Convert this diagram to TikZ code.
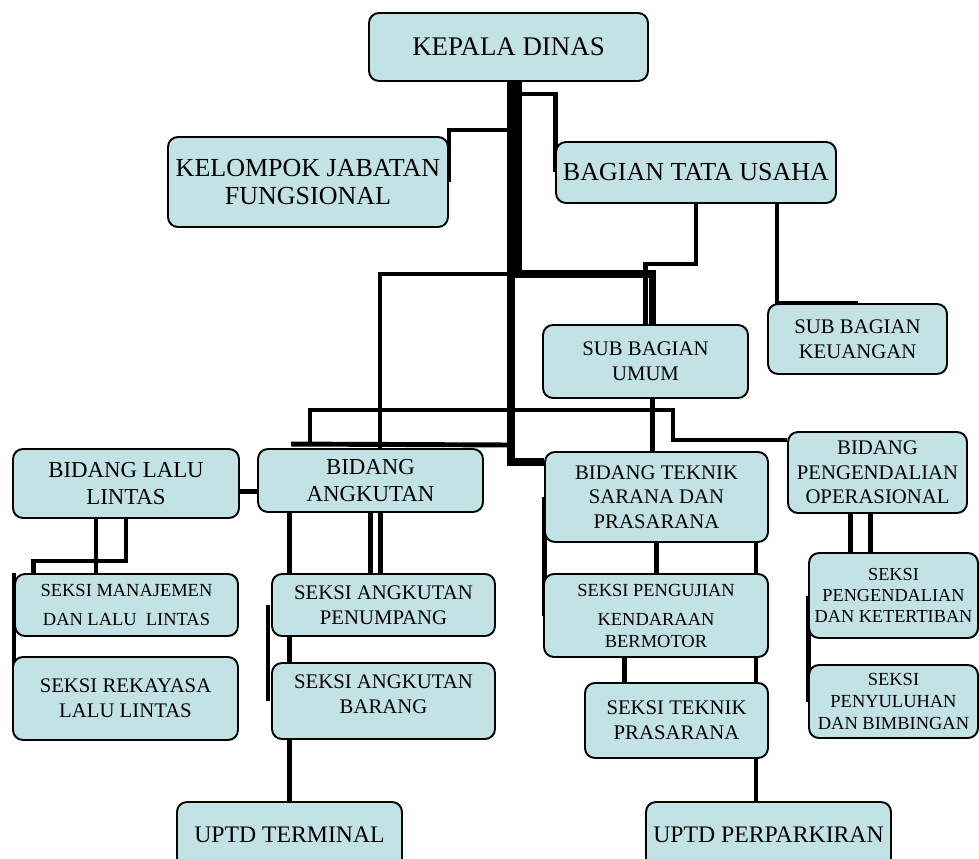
\documentclass[tikz,border=0pt]{standalone}
\usepackage{fontspec}
\setmainfont{Liberation Serif}
\usepackage{tikz}
\usetikzlibrary{backgrounds}
\definecolor{boxfill}{HTML}{C2E2E5}

\begin{document}
\begin{tikzpicture}[
  x=0.2mm, y=-0.2mm,
  box/.style={draw,line width=1.1pt,rounded corners=2mm,fill=boxfill,align=center,inner sep=0pt},
  fhead/.style={font=\fontsize{15.3}{17}\selectfont},
  fbig/.style={font=\fontsize{14.8}{16}\selectfont},
  fuptd/.style={font=\fontsize{13.5}{16}\selectfont},
  fbidang/.style={font=\fontsize{13}{15.4}\selectfont},
  fmid/.style={font=\fontsize{11.8}{14}\selectfont},
  fsmall/.style={font=\fontsize{10.5}{12.5}\selectfont},
  ftiny/.style={font=\fontsize{10.4}{11.7}\selectfont},
  conn/.style={line width=2.8pt},
  trunk/.style={line width=4.5pt}
]
\useasboundingbox (0,0) rectangle (979,859);

% pimpinan dan staf
\node[box,fhead,minimum width=55.8mm,minimum height=13.6mm] (kepala) at (508.5,47) {KEPALA DINAS};
\node[box,fbig,minimum width=56mm,minimum height=18mm] (kelompok) at (308,182) {KELOMPOK JABATAN\\FUNGSIONAL};
\node[box,fbig,minimum width=56mm,minimum height=12.2mm] (tatausaha) at (696,172.5) {BAGIAN TATA USAHA};
\node[box,fmid,minimum width=35.8mm,minimum height=14mm] (keuangan) at (857.5,339) {SUB BAGIAN\\KEUANGAN};
\node[box,fmid,minimum width=41mm,minimum height=14.6mm] (umum) at (645.5,361.5) {SUB BAGIAN\\UMUM};

% bidang
\node[box,fbidang,minimum width=45.2mm,minimum height=13.8mm] (lalin) at (126,483.5) {BIDANG LALU\\LINTAS};
\node[box,fbidang,minimum width=45mm,minimum height=12.6mm] (angkutan) at (370.5,480.5) {BIDANG\\ANGKUTAN};
\node[box,fmid,minimum width=44.6mm,minimum height=18mm] (teknik) at (656.5,497) {BIDANG TEKNIK\\SARANA DAN\\PRASARANA};
\node[box,fmid,minimum width=35.8mm,minimum height=16.2mm] (pengendalian) at (877.5,472.5) {BIDANG\\PENGENDALIAN\\OPERASIONAL};

% seksi
\node[box,fsmall,minimum width=44.6mm,minimum height=12.4mm] (manajemen) at (126.5,605) {SEKSI MANAJEMEN\\[4pt]DAN LALU\ \ LINTAS};
\node[box,fmid,minimum width=45mm,minimum height=16.6mm] (rekayasa) at (125.5,698.5) {SEKSI REKAYASA\\LALU LINTAS};
\node[box,fmid,minimum width=44.6mm,minimum height=12.4mm] (penumpang) at (383.5,605) {SEKSI ANGKUTAN\\PENUMPANG};
\node[box,fmid,minimum width=44.6mm,minimum height=15.2mm] (barang) at (383.5,701) {SEKSI ANGKUTAN\\BARANG\\[-6pt]};
\node[box,fsmall,minimum width=44.8mm,minimum height=16.6mm] (pengujian) at (656,615.5) {SEKSI PENGUJIAN\\[4pt]KENDARAAN\\BERMOTOR};
\node[box,fmid,minimum width=36.6mm,minimum height=15mm] (prasarana) at (676.5,720.5) {SEKSI TEKNIK\\PRASARANA};
\node[box,ftiny,minimum width=33.8mm,minimum height=17mm] (ketertiban) at (893.5,595.5) {SEKSI\\PENGENDALIAN\\DAN KETERTIBAN};
\node[box,fsmall,minimum width=33.8mm,minimum height=14.6mm] (penyuluhan) at (893.5,701.5) {SEKSI\\PENYULUHAN\\DAN BIMBINGAN};

% uptd
\node[box,fuptd,minimum width=45mm,minimum height=13.2mm] (terminal) at (289.5,835) {UPTD TERMINAL};
\node[box,fuptd,minimum width=49mm,minimum height=13.2mm] (perparkiran) at (768.5,835) {UPTD PERPARKIRAN};

\begin{scope}[on background layer]
\coordinate (tA) at (511,462);
\coordinate (tB) at (518.5,274);
\coordinate (kk) at (511,130);
\coordinate (kt) at (518.5,94);
\coordinate (ka) at (380,274);
\coordinate (kb) at (511,445);
\coordinate (kp) at (310,410);
\coordinate (kq) at (673,440);

% garis utama
\draw[trunk] (kepala.south -| tA) -- (tA) -- (tA -| teknik.west);
\draw[line width=4pt] (kepala.south -| tB) -- (tB) -| ([shift={(7,0)}]umum.north);
\draw[conn] (kk) -| (kelompok.east);
\draw[conn] (kt) -| (tatausaha.west);
\draw[conn] (tB) -- (ka) -- (ka |- angkutan.north);
\draw[conn] (kb) -- ([shift={(34,-4)}]angkutan.north west);
\draw[conn] (kp |- kb) -- (kp) -| (kq) -- (kq -| pengendalian.west);
\draw[conn] (tatausaha.south) -- ++(0,60) -| (umum.north);
\draw[conn] ([shift={(81,0)}]tatausaha.south) |- (keuangan.north);
\draw[conn] ([shift={(7,0)}]umum.south) -- ++(0,54);
\draw[conn] ([shift={(0,8)}]lalin.east) -- ([shift={(0,11)}]angkutan.west);

% lalu lintas
\draw[conn] ([shift={(-30,0)}]lalin.south) -- ++(0,56);
\draw[conn] (lalin.south) -- ++(0,42) -| ([shift={(-93,0)}]manajemen.north);
\draw[conn] (manajemen.north west) -- (manajemen.north west |- rekayasa.west);

% angkutan
\draw[conn] (terminal.north) -- (terminal.north |- angkutan.south);
\draw[conn] (angkutan.south) -- (angkutan.south |- penumpang.north);
\draw[conn] ([shift={(10,0)}]angkutan.south) -- ++(0,62);
\draw[conn] ([shift={(-3,0)}]penumpang.west) -- ++(0,96);

% teknik sarana dan prasarana
\draw[conn] (teknik.west) -- (teknik.west |- pengujian.west);
\draw[conn] (teknik.south) -- (teknik.south |- pengujian.north);
\draw[conn] ([shift={(-13,0)}]teknik.south east) -- ++(0,260);
\draw[conn] ([shift={(-52,0)}]prasarana.north) -- ++(0,-26);

% pengendalian operasional
\draw[conn] ([shift={(-27,0)}]pengendalian.south) -- ++(0,40);
\draw[conn] ([shift={(-7,0)}]pengendalian.south) -- ++(0,40);
\draw[conn] (ketertiban.west) -- (ketertiban.west |- penyuluhan.west);
\end{scope}
\end{tikzpicture}
\end{document}
